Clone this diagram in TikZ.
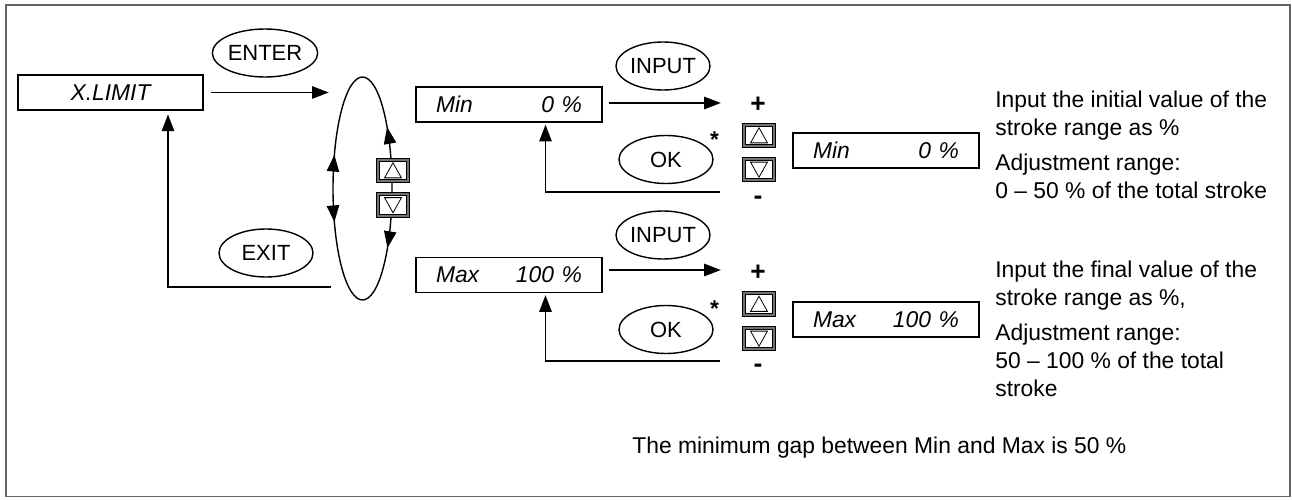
\documentclass[tikz,border=0pt]{standalone}
\usepackage{fontspec}
\setmainfont{Liberation Sans}
\usetikzlibrary{arrows.meta,shapes.geometric,decorations.markings}

\tikzset{
  arr/.style={-{Triangle[length=9.5pt,width=7pt]}, line width=1pt},
  valbox/.style={draw, line width=1pt, minimum height=0.7cm, text width=2.92cm,
    inner xsep=0.4cm, inner ysep=0pt, font=\fontsize{13}{15}\selectfont\itshape},
  keyoval/.style={draw, ellipse, line width=0.8pt, minimum width=1.88cm,
    minimum height=0.96cm, inner sep=0pt, font=\fontsize{12.5}{15}\selectfont},
  btn/.style={draw, line width=0.55pt, double=black!55, double distance=1.1pt, fill=white,
    minimum width=0.61cm, minimum height=0.43cm, inner sep=0pt},
  upbtn/.style={btn, path picture={\draw[line width=0.45pt]
    ([shift={(-4.8pt,-4.2pt)}]path picture bounding box.center) -- ++(9.6pt,0) -- ++(-4.8pt,8.6pt) -- cycle;}},
  downbtn/.style={btn, path picture={\draw[line width=0.45pt]
    ([shift={(-4.8pt,4.2pt)}]path picture bounding box.center) -- ++(9.6pt,0) -- ++(-4.8pt,-8.6pt) -- cycle;}},
  sign/.style={inner sep=0pt, font=\fontsize{15}{15}\selectfont\bfseries},
  star/.style={inner sep=0pt, font=\fontsize{13}{13}\selectfont\bfseries},
  note/.style={anchor=base west, align=left, inner sep=0pt, font=\fontsize{13}{15.9}\selectfont},
}

\begin{document}
\begin{tikzpicture}
\useasboundingbox (0,0) rectangle (25.84,9.98);
\draw[black!60, line width=0.7pt] (0.12,0.05) rectangle (25.8,9.88);

% left part
\node[draw, line width=1pt, minimum width=3.7cm, minimum height=0.7cm, inner sep=0pt,
  font=\fontsize{13}{15}\selectfont\itshape] (xlimit) at (2.21,8.13) {X.LIMIT};
\node[keyoval] (enter) at (5.30,8.92) {ENTER};
\node[keyoval] (exit) at (5.32,4.92) {EXIT};
\node[draw, ellipse, line width=0.8pt, minimum width=1.18cm, minimum height=4.46cm, inner sep=0pt,
  postaction={decorate, decoration={markings,
    mark=at position 0.128 with {\arrow{Triangle[length=9.5pt,width=7pt]}},
    mark=at position 0.43 with {\arrowreversed{Triangle[length=9.5pt,width=7pt]}},
    mark=at position 0.57 with {\arrow{Triangle[length=9.5pt,width=7pt]}},
    mark=at position 0.876 with {\arrowreversed{Triangle[length=9.5pt,width=7pt]}}}}]
  (loop) at (7.25,6.21) {};
\node[upbtn] (up1) at (7.86,6.57) {};
\node[downbtn] (down1) at (7.86,5.88) {};

\coordinate (loopout) at (6.62,4.24);
\draw[arr] ([xshift=4pt]xlimit.east) -- ([xshift=-2pt]loop.west |- xlimit.east);
\draw[arr, shorten >=2pt] (loopout) -| ([xshift=1.15cm]xlimit.south);

% Min row
\node[valbox] (minbox) at (10.18,7.89) {Min\hfill 0~\%};
\node[keyoval] (input1) at (13.26,8.66) {INPUT};
\node[keyoval] (ok1) at (13.32,6.79) {OK};
\node[star] (star1) at (14.29,7.19) {*};
\node[sign] (plus1) at (15.16,7.88) {+};
\node[sign] (minus1) at (15.16,5.98) {-};
\node[upbtn] (up2) at (15.18,7.27) {};
\node[downbtn] (down2) at (15.18,6.59) {};
\node[valbox] (minright) at (17.72,6.97) {Min\hfill 0~\%};

\coordinate (minback) at (14.40,6.14);
\draw[arr] ([xshift=0.12cm,yshift=0.03cm]minbox.east) -- ++(2.24,0);
\draw[arr, shorten >=1pt] (minback) -| ([xshift=0.73cm]minbox.south);

% Max row
\node[valbox] (maxbox) at (10.18,4.48) {Max\hfill 100~\%};
\node[keyoval] (input2) at (13.26,5.28) {INPUT};
\node[keyoval] (ok2) at (13.32,3.39) {OK};
\node[star] (star2) at (14.29,3.81) {*};
\node[sign] (plus2) at (15.16,4.52) {+};
\node[sign] (minus2) at (15.16,2.62) {-};
\node[upbtn] (up3) at (15.18,3.90) {};
\node[downbtn] (down3) at (15.18,3.21) {};
\node[valbox] (maxright) at (17.72,3.59) {Max\hfill 100~\%};

\coordinate (maxback) at (14.40,2.76);
\draw[arr] ([xshift=0.12cm,yshift=0.1cm]maxbox.east) -- ++(2.24,0);
\draw[arr, shorten >=1pt] (maxback) -| ([xshift=0.73cm]maxbox.south);

% notes (anchored at the last line)
\node[note] (mintext) at (19.9,6.02) {Input the initial value of the\\ stroke range as \%\\[4pt]
  Adjustment range:\\ 0 -- 50 \% of the total stroke};
\node[note] (maxtext) at (19.9,2.06) {Input the final value of the\\ stroke range as \%,\\[4pt]
  Adjustment range:\\ 50 -- 100 \% of the total\\ stroke};
\node[note] (gaptext) at (12.64,0.92) {The minimum gap between Min and Max is 50 \%};
\end{tikzpicture}
\end{document}
